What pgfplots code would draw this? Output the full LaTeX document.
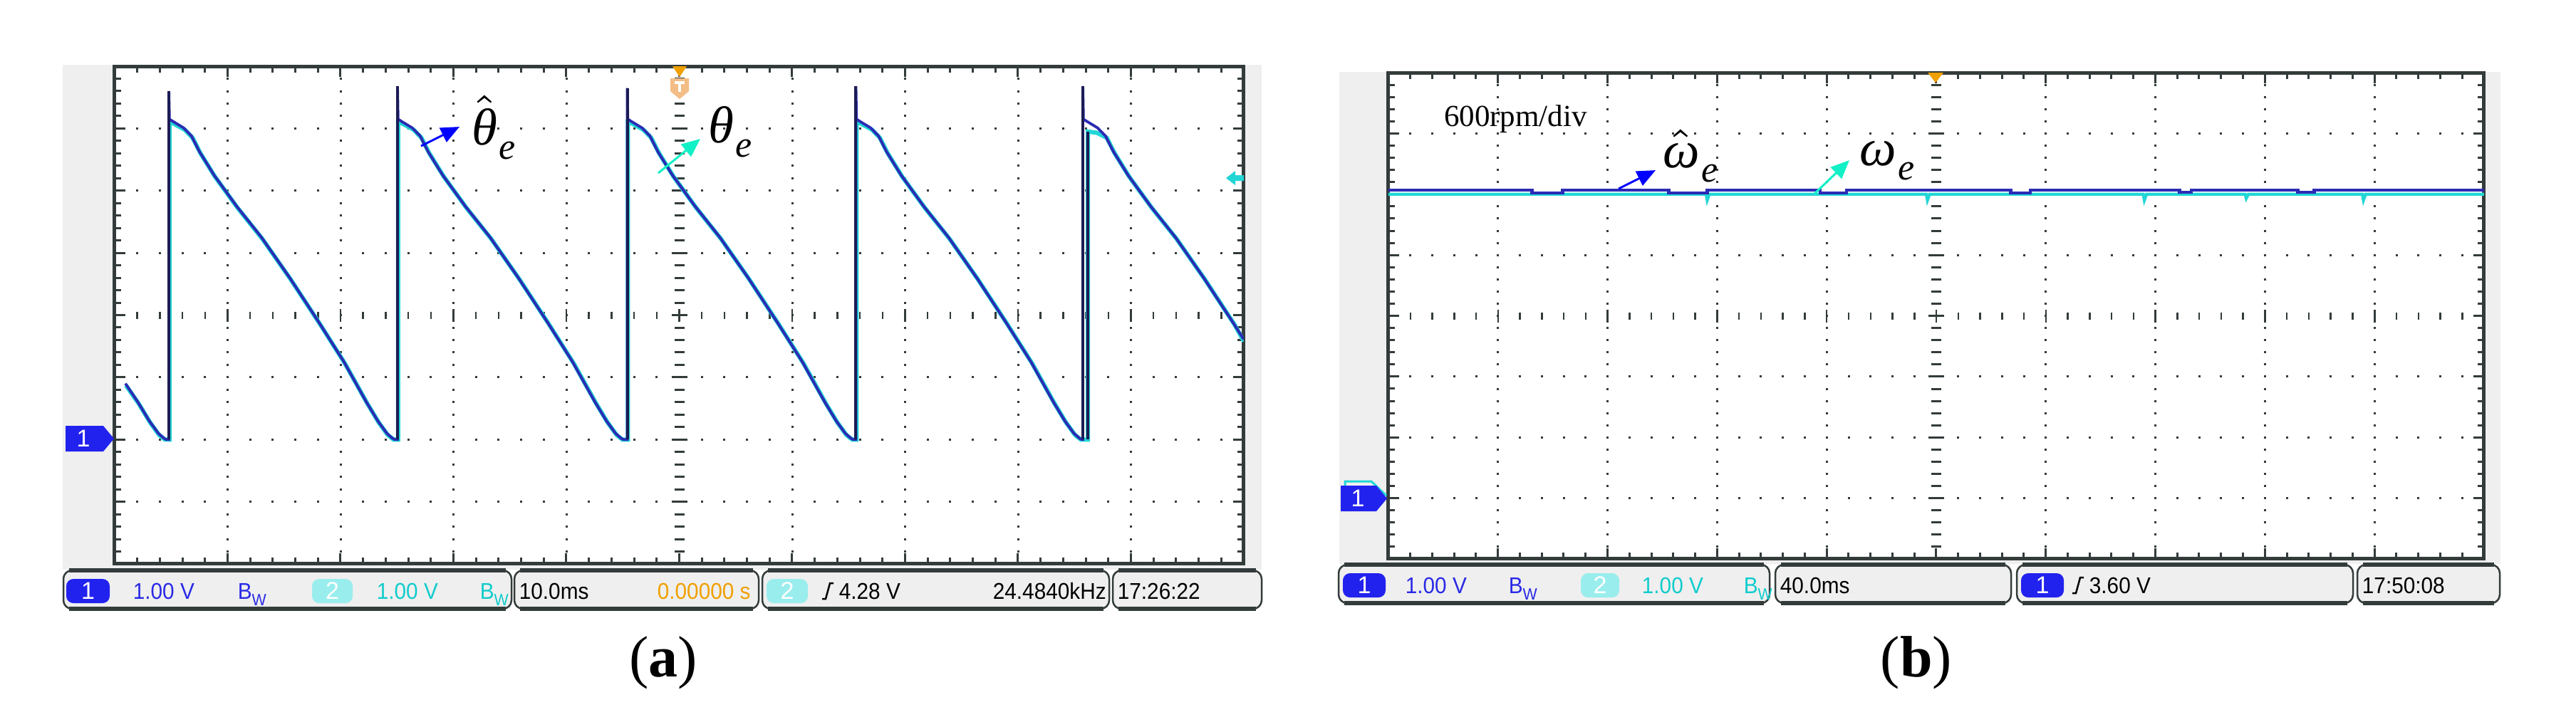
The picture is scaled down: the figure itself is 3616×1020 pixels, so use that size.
\documentclass[border=0pt]{standalone}
\usepackage{fontspec}
\setmainfont{Liberation Serif}
\newfontfamily\scopefont{Liberation Sans}
\usepackage{pgfplots}
\pgfplotsset{compat=1.18}
\usetikzlibrary{arrows.meta}

\definecolor{frame}{HTML}{333B3B}
\definecolor{panelgray}{HTML}{EFEFEF}
\definecolor{chA}{HTML}{2B2BB5}
\definecolor{chB}{HTML}{22D6D6}
\definecolor{edge}{HTML}{1C1C55}
\definecolor{badgeA}{HTML}{2222EE}
\definecolor{badgeB}{HTML}{9AEDED}
\definecolor{txtA}{HTML}{2A2AE6}
\definecolor{txtB}{HTML}{10CCCC}
\definecolor{trig}{HTML}{F0A000}
\definecolor{trigl}{HTML}{F3BD86}
\definecolor{arrA}{HTML}{0000FF}
\definecolor{arrB}{HTML}{12F0C6}

% scope screen: frame, ticks, 10 x 8 divisions
\pgfplotsset{scopeaxis/.style={
  scale only axis, anchor=north west,
  xmin=0, xmax=10, ymin=-4, ymax=4,
  xtick={0,...,10}, ytick={-4,...,4},
  minor x tick num=4, minor y tick num=4,
  xticklabels={}, yticklabels={},
  tick align=inside,
  major tick length=1.5pt, minor tick length=0.9pt,
  axis line style={frame, line width=0.5pt},
  tick style={frame, line width=0.3pt},
}}

% dotted graticule and centre cross, in picture pixels
% #1 left, #2 top, #3 division width, #4 division height
\newcommand\scopegrid[4]{%
  \foreach \i in {1,2,3,4,6,7,8,9} {
    \foreach \j in {1,...,39} {
      \fill[frame] ({#1+\i*#3-1.5},{#2+\j*#4/5-1.5}) rectangle +(3,3);
    }
  }
  \foreach \j in {1,2,3,5,6,7} {
    \foreach \i in {1,...,49} {
      \fill[frame] ({#1+\i*#3/5-1.5},{#2+\j*#4-1.5}) rectangle +(3,3);
    }
  }
  \foreach \j in {1,...,39} {
    \pgfmathsetmacro\len{mod(\j,5)==0 ? 11 : 7}
    \draw[frame, line width=0.3pt] ({#1+5*#3-\len},{#2+\j*#4/5}) -- ++({2*\len},0);
  }
  \foreach \i in {1,...,49} {
    \pgfmathsetmacro\len{mod(\i,5)==0 ? 9 : 5}
    \draw[frame, line width=0.25pt] ({#1+\i*#3/5},{#2+4*#4-\len}) -- ++(0,{2*\len});
  }
}

\newcommand\stxt[4]{\node[anchor=base west, inner sep=0, xscale=0.93, text=#3,
  font=\scopefont\fontsize{3.2}{3.6}\selectfont] at (#1,#2) {#4};}
\newcommand\bw{B\raisebox{-0.3em}{\fontsize{2.3}{2.5}\selectfont W}}
\newcommand\badge[5]{%
  \fill[#4, rounded corners=1pt] (#1,{#3-17}) rectangle (#2,{#3+17});
  \node[text=white, inner sep=0, font=\scopefont\fontsize{3.4}{3.6}\selectfont]
    at ({(#1+#2)/2},#3) {#5};}
\newcommand\seg[4]{%
  \filldraw[fill=panelgray, draw=frame, line width=0.25pt, rounded corners=1.2pt]
    (#1,#3) rectangle (#2,#4);
  \draw[frame, line width=0.55pt] ({#1+8},#3) -- ({#2-8},#3);
  \draw[frame, line width=0.55pt] ({#1+8},#4) -- ({#2-8},#4);}

\begin{document}
\begin{tikzpicture}[x=0.1pt, y=-0.1pt]
\fill[white] (0,0) rectangle (3616,1020);
\useasboundingbox (0,0) rectangle (3616,1020);

% panels
\fill[panelgray] (88,91) rectangle (1771,800);
\fill[panelgray] (1880,101) rectangle (3510,792);
\fill[white] (161,93) rectangle (1746,792);
\fill[white] (1949,102) rectangle (3487,785);
\scopegrid{161}{93}{158.5}{87.375}
\scopegrid{1949}{102}{153.8}{85.375}

% (a) rotor position, estimated and actual
\begin{axis}[scopeaxis, at={(16.1pt,-9.3pt)}, width=158.5pt, height=69.9pt,
  unbounded coords=jump]
\addplot[chB, line width=0.6pt] coordinates {
(0.10,-1.13) (0.215,-1.43) (0.315,-1.73) (0.395,-1.93) (0.445,-2.0) (0.486,-2.0)
(0.486,3.10) (0.52,3.08) (0.62,2.98) (0.69,2.85) (0.76,2.60) (0.89,2.22) (1.09,1.72)
(1.31,1.22) (1.56,0.57) (1.82,-0.15) (2.04,-0.78) (2.24,-1.43) (2.34,-1.73) (2.42,-1.93)
(2.47,-2.0) (2.511,-2.0)
(2.511,3.10) (2.547,3.08) (2.647,2.98) (2.717,2.85) (2.787,2.60) (2.917,2.22) (3.117,1.72)
(3.337,1.22) (3.587,0.57) (3.847,-0.15) (4.067,-0.78) (4.267,-1.43) (4.367,-1.73)
(4.447,-1.93) (4.497,-2.0) (4.546,-2.0)
(4.546,3.10) (4.582,3.08) (4.682,2.98) (4.752,2.85) (4.822,2.60) (4.952,2.22) (5.152,1.72)
(5.372,1.22) (5.622,0.57) (5.882,-0.15) (6.102,-0.78) (6.302,-1.43) (6.402,-1.73)
(6.482,-1.93) (6.532,-2.0) (6.571,-2.0)
(6.571,3.10) (6.607,3.08) (6.707,2.98) (6.777,2.85) (6.847,2.60) (6.977,2.22) (7.177,1.72)
(7.397,1.22) (7.647,0.57) (7.907,-0.15) (8.127,-0.78) (8.327,-1.43) (8.427,-1.73)
(8.507,-1.93) (8.557,-2.0) (8.62,-2.0)
(8.62,2.95) (8.70,2.93) (8.787,2.85) (8.857,2.60) (8.987,2.22) (9.187,1.72) (9.407,1.22)
(9.657,0.57) (9.917,-0.15) (10,-0.42)};
\addplot[chA, line width=0.38pt] coordinates {
(0.095,-1.10) (0.206,-1.40) (0.306,-1.70) (0.386,-1.90) (0.436,-1.98) (0.456,-2.0) (0.48,-2.0)
(0.48,3.60) (0.485,3.15) (0.51,3.12) (0.61,3.01) (0.68,2.88) (0.75,2.63) (0.88,2.25)
(1.08,1.75) (1.30,1.25) (1.55,0.60) (1.81,-0.12) (2.03,-0.75) (2.23,-1.40) (2.33,-1.70)
(2.41,-1.90) (2.46,-1.98) (2.48,-2.0) (2.505,-2.0)
(2.505,3.68) (2.51,3.15) (2.535,3.12) (2.635,3.01) (2.705,2.88) (2.775,2.63) (2.905,2.25)
(3.105,1.75) (3.325,1.25) (3.575,0.60) (3.835,-0.12) (4.055,-0.75) (4.255,-1.40)
(4.355,-1.70) (4.435,-1.90) (4.485,-1.98) (4.505,-2.0) (4.54,-2.0)
(4.54,3.65) (4.545,3.15) (4.57,3.12) (4.67,3.01) (4.74,2.88) (4.81,2.63) (4.94,2.25)
(5.14,1.75) (5.36,1.25) (5.61,0.60) (5.87,-0.12) (6.09,-0.75) (6.29,-1.40) (6.39,-1.70)
(6.47,-1.90) (6.52,-1.98) (6.54,-2.0) (6.565,-2.0)
(6.565,3.68) (6.57,3.15) (6.595,3.12) (6.695,3.01) (6.765,2.88) (6.835,2.63) (6.965,2.25)
(7.165,1.75) (7.385,1.25) (7.635,0.60) (7.895,-0.12) (8.115,-0.75) (8.315,-1.40)
(8.415,-1.70) (8.495,-1.90) (8.545,-1.98) (8.565,-2.0) (8.575,-2.0)
(8.575,3.68) (8.58,3.15) (8.605,3.12) (8.705,3.01) (8.775,2.88) (8.845,2.63) (8.975,2.25)
(9.175,1.75) (9.395,1.25) (9.645,0.60) (9.905,-0.12) (10.0,-0.39)};
% the rising edges show darker on the screen
\addplot[edge, line width=0.4pt] coordinates {
(0.48,-2.0) (0.48,3.60) (0.48,nan) (2.505,-2.0) (2.505,3.68) (2.505,nan)
(4.54,-2.0) (4.54,3.65) (4.54,nan) (6.565,-2.0) (6.565,3.68) (6.565,nan)
(8.575,-2.0) (8.575,3.68) (8.575,nan) (8.62,-2.0) (8.62,2.95)};
\end{axis}

% (b) speed, estimated and actual
\begin{axis}[scopeaxis, at={(194.9pt,-10.2pt)}, width=153.8pt, height=68.3pt]
\addplot[chB, line width=0.42pt] coordinates {
(0,2.0) (2.90,2.0) (2.91,1.90) (2.93,2.0) (4.91,2.0) (4.92,1.90) (4.94,2.0)
(6.89,2.0) (6.90,1.90) (6.92,2.0) (7.82,2.0) (7.83,1.93) (7.85,2.0)
(8.89,2.0) (8.90,1.90) (8.92,2.0) (10,2.0)};
\addplot[chA, line width=0.45pt] coordinates {
(0,2.07) (1.31,2.07) (1.31,2.02) (1.59,2.02) (1.59,2.07) (2.56,2.07) (2.56,2.02)
(2.91,2.02) (2.91,2.07) (3.94,2.07) (3.94,2.02) (4.18,2.02) (4.18,2.07)
(5.68,2.07) (5.68,2.02) (5.86,2.02) (5.86,2.07) (7.22,2.07) (7.22,2.03)
(7.33,2.03) (7.33,2.07) (8.30,2.07) (8.30,2.03) (8.45,2.03) (8.45,2.07) (10,2.07)};
\end{axis}

% screen markers
\fill[trig] (944,93) -- (964,93) -- (954,108) -- cycle;
\fill[trigl] (941,110) -- (967,110) -- (967,128) -- (954,139) -- (941,128) -- cycle;
\fill[white] (947,114) rectangle (961,118);
\fill[white] (952,118) rectangle (956,129);
\fill[trig] (2706,102) -- (2728,102) -- (2717,116) -- cycle;
\fill[chB] (1721,250) -- (1734,240) -- (1734,246) -- (1746,246) -- (1746,254)
  -- (1734,254) -- (1734,260) -- cycle;
\fill[badgeA] (92,598) -- (145,598) -- (160,616) -- (145,634) -- (92,634) -- cycle;
\node[text=white, inner sep=0, font=\scopefont\fontsize{3.4}{3.6}\selectfont] at (117,616) {1};
\draw[chB, line width=0.3pt] (1888,688) -- (1888,676) -- (1925,676) -- (1946,696);
\fill[badgeA] (1882,682) -- (1932,682) -- (1947,700) -- (1932,718) -- (1882,718) -- cycle;
\node[text=white, inner sep=0, font=\scopefont\fontsize{3.4}{3.6}\selectfont] at (1906,700) {1};

% annotations
\draw[arrA, line width=0.3pt, -{Triangle[length=2.6pt, width=2.2pt]}] (591,205) -- (645,178);
\node[anchor=base west, inner sep=0, font=\fontsize{7.3}{8}\selectfont\itshape]
  at (660,203) {$\hat{\mbox{θ}}$\kern0.3pt\raisebox{-0.28em}{\fontsize{5.2}{6}\selectfont e}};
\draw[arrB, line width=0.3pt, -{Triangle[length=2.6pt, width=2.2pt]}] (924,243) -- (983,195);
\node[anchor=base west, inner sep=0, font=\fontsize{7.3}{8}\selectfont\itshape]
  at (992,200) {θ\kern0.3pt\raisebox{-0.28em}{\fontsize{5.2}{6}\selectfont e}};
\node[anchor=base west, inner sep=0, font=\fontsize{4.3}{5}\selectfont] at (2025,177) {600rpm/div};
\draw[arrA, line width=0.3pt, -{Triangle[length=2.6pt, width=2.2pt]}] (2272,265) -- (2324,239);
\node[anchor=base west, inner sep=0, font=\fontsize{7.3}{8}\selectfont\itshape]
  at (2332,235) {$\hat{\mbox{ω}}$\kern0.3pt\raisebox{-0.28em}{\fontsize{5.2}{6}\selectfont e}};
\draw[arrB, line width=0.3pt, -{Triangle[length=2.6pt, width=2.2pt]}] (2547,272) -- (2596,225);
\node[anchor=base west, inner sep=0, font=\fontsize{7.3}{8}\selectfont\itshape]
  at (2608,232) {ω\kern0.3pt\raisebox{-0.28em}{\fontsize{5.2}{6}\selectfont e}};

% status bar (a)
\seg{89}{718}{801}{855}
\seg{722}{1065}{801}{855}
\seg{1070}{1557}{801}{855}
\seg{1562}{1771}{801}{855}
\badge{93}{154}{830}{badgeA}{1}
\stxt{185}{841}{txtA}{1.00 V}
\stxt{332}{841}{txtA}{\bw}
\badge{438}{495}{830}{badgeB}{2}
\stxt{527}{841}{txtB}{1.00 V}
\stxt{672}{841}{txtB}{\bw}
\stxt{727}{841}{black}{10.0ms}
\stxt{921}{841}{trig}{0.00000 s}
\badge{1076}{1134}{830}{badgeB}{2}
\draw[black, line width=0.25pt] (1154,841) -- (1159,841) -- (1165,819) -- (1170,819);
\stxt{1176}{841}{black}{4.28 V}
\stxt{1392}{841}{black}{24.4840kHz}
\stxt{1567}{841}{black}{17:26:22}

% status bar (b)
\seg{1879}{2484}{793}{847}
\seg{2492}{2823}{793}{847}
\seg{2831}{3303}{793}{847}
\seg{3309}{3509}{793}{847}
\badge{1885}{1945}{822}{badgeA}{1}
\stxt{1971}{833}{txtA}{1.00 V}
\stxt{2116}{833}{txtA}{\bw}
\badge{2219}{2273}{822}{badgeB}{2}
\stxt{2303}{833}{txtB}{1.00 V}
\stxt{2446}{833}{txtB}{\bw}
\stxt{2497}{833}{black}{40.0ms}
\badge{2837}{2897}{822}{badgeA}{1}
\draw[black, line width=0.25pt] (2909,833) -- (2914,833) -- (2920,811) -- (2925,811);
\stxt{2931}{833}{black}{3.60 V}
\stxt{3314}{833}{black}{17:50:08}

% panel labels
\node[anchor=base, inner sep=0, font=\fontsize{8.2}{9}\selectfont] at (931,950) {(\textbf{a})};
\node[anchor=base, inner sep=0, font=\fontsize{8.2}{9}\selectfont] at (2690,950) {(\textbf{b})};
\end{tikzpicture}
\end{document}
